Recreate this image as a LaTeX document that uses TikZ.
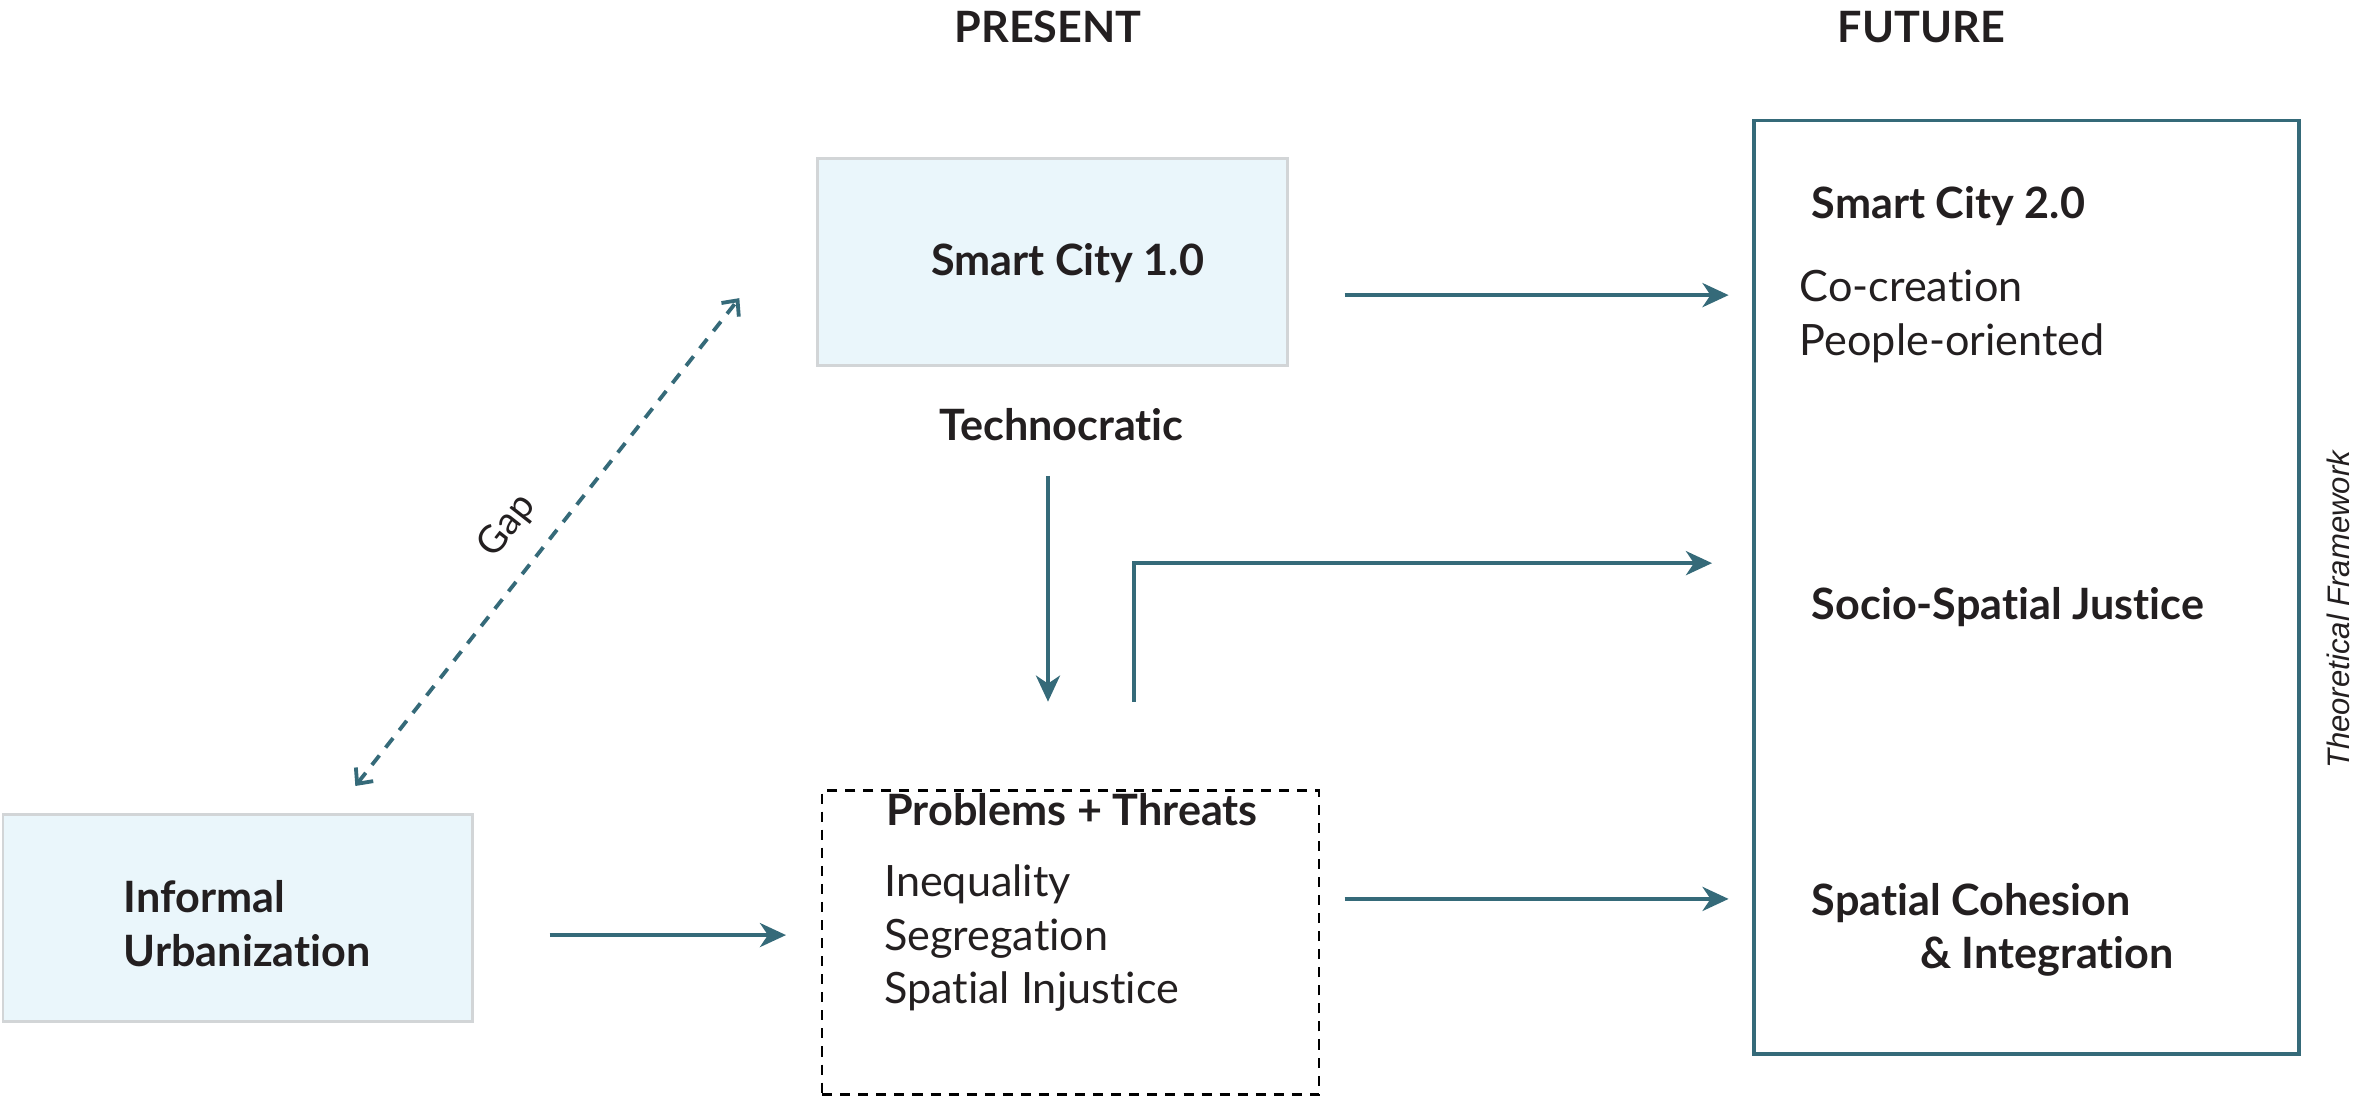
\documentclass[tikz,border=0pt]{standalone}
\usepackage{fontspec}
\setmainfont{Lato}[Ligatures=NoCommon]
\newfontfamily\arialfont{Liberation Sans}
\usetikzlibrary{arrows.meta}

\definecolor{arrowteal}{HTML}{356A79}
\definecolor{boxblue}{HTML}{EAF6FB}
\definecolor{boxgray}{HTML}{D2D5D7}
\definecolor{ink}{HTML}{231F20}

\begin{document}
\begin{tikzpicture}[x=0.75pt,y=-0.75pt,
  >={Stealth[length=13pt,width=12pt,inset=4pt]},
  flow/.style={->,draw=arrowteal,line width=1.9pt},
  gap line/.style={{Straight Barb[length=6pt,width=11pt]}-{Straight Barb[length=6pt,width=11pt]},
    draw=arrowteal,line width=1.9pt,dash pattern=on 6pt off 5pt},
  blue box/.style={draw=boxgray,line width=1.4pt,fill=boxblue,minimum width=234pt,minimum height=103pt},
  head/.style={font=\bfseries\fontsize{21.5}{27}\selectfont,text=ink,inner sep=0pt},
  item/.style={font=\fontsize{21.5}{26.5}\selectfont,text=ink,align=left,inner sep=0pt}]

  \useasboundingbox (0,0) rectangle (1568,731);

  % columns
  \node[head] (present) at (696,18) {PRESENT};
  \node[head] (future) at (1276,18) {FUTURE};

  % boxes
  \node[blue box] (sc1box) at (699,174) {};
  \node[blue box] (informal) at (158,609.5) {};
  \node[draw=black,line width=1.2pt,dash pattern=on 5pt off 4pt,
        minimum width=247.5pt,minimum height=151.5pt] (problems) at (711,626) {};
  \node[draw=arrowteal,line width=1.9pt,minimum width=271.5pt,minimum height=465pt] (frame) at (1346,390) {};

  % texts
  \node[head] (sc1) at (709,175) {Smart City 1.0};
  \node[head] (techno) at (705,282) {Technocratic};
  \node[head,align=left,anchor=west] (urban) at (82,613.5) {Informal\\Urbanization};
  \node[head] (threats) at (712,538) {Problems + Threats};
  \node[item,anchor=west] (issues) at (587,623) {Inequality\\Segregation\\Spatial Injustice};

  \node[head,anchor=west] (sc2) at (1203,137) {Smart City 2.0};
  \node[item,anchor=west,font=\fontsize{21.5}{27}\selectfont] (aims) at (1195,210) {Co-creation\\People-oriented};
  \node[head,anchor=west] (justice) at (1203,403) {Socio-Spatial Justice};
  \node[head,anchor=west] (cohesion) at (1203,600) {Spatial Cohesion};
  \node[head,anchor=west] (integr) at (1275,635) {\& Integration};
  \node[font=\arialfont\itshape\fontsize{15.5}{18}\selectfont,text=ink,rotate=90] (theory) at (1553,405) {Theoretical Framework};

  % connectors
  \coordinate (sc1out) at (893,196);
  \coordinate (sc2in) at (1148,196);
  \coordinate (techout) at (696,316);
  \coordinate (probin) at (696,466);
  \coordinate (probup) at (753,466);
  \coordinate (justin) at (1137,374);
  \coordinate (probout) at (893,597);
  \coordinate (cohin) at (1148,597);
  \coordinate (urbout) at (365,621);
  \coordinate (urbin) at (522,621);
  \coordinate (gapa) at (236,522);
  \coordinate (gapb) at (491,198);

  \draw[flow] (sc1out) -- (sc2in);
  \draw[flow] (techout) -- (probin);
  \draw[flow] (probup) |- (justin);
  \draw[flow] (probout) -- (cohin);
  \draw[flow] (urbout) -- (urbin);
  \draw[gap line] (gapa) -- node[pos=0.48,sloped,above=11pt,inner sep=0pt,font=\fontsize{19}{20}\selectfont,text=ink] (gaplabel) {Gap} (gapb);

\end{tikzpicture}
\end{document}
